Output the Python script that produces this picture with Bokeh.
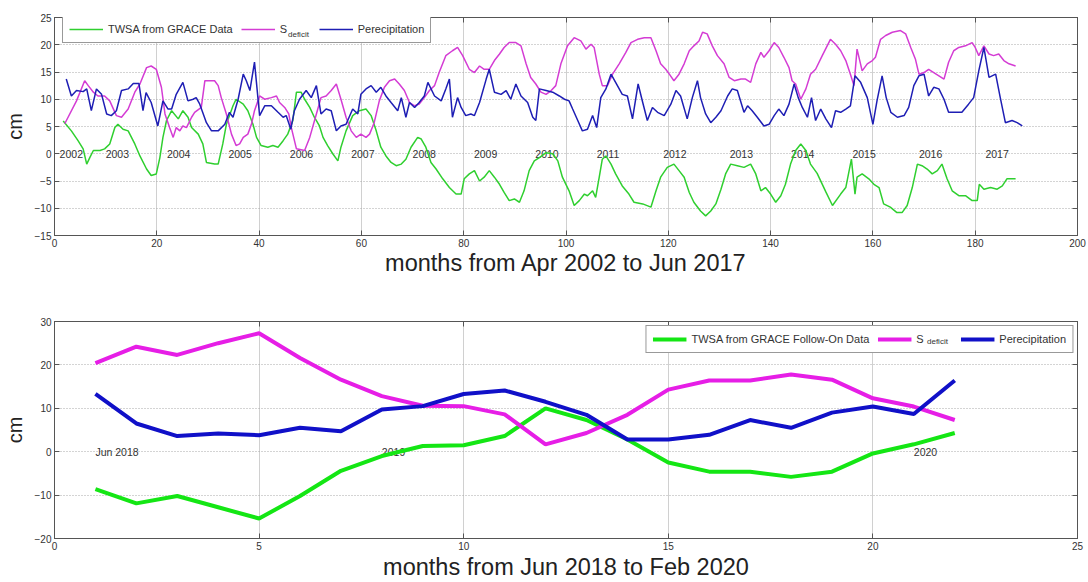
from bokeh.plotting import figure
from bokeh.layouts import column
from bokeh.models import Legend, LegendItem, Range1d, FixedTicker, ColumnDataSource, LinearAxis
from bokeh.core.properties import value
from bokeh.embed import file_html
from bokeh.resources import INLINE

FONT = "Liberation Sans"

# ---------------- top panel data (month index, cm) ----------------
twsa_top = [(1.7, 6.0), (3.3, 4.2), (4.6, 2.4), (5.6, 0.9), (6.3, -1.9), (6.9, -0.7), (7.6, 0.6), (8.9, 0.6),
            (9.8, 0.9), (10.8, 1.8), (11.8, 4.8), (12.4, 5.4), (13.4, 4.5), (14.4, 4.2), (15.7, 1.8), (16.7, -0.4),
            (18.0, -2.8), (18.9, -4.0), (19.9, -3.7), (20.6, -0.7), (21.2, 3.0), (21.9, 6.1), (22.9, 7.9), (24.2, 6.4),
            (25.1, 7.9), (26.1, 6.7), (26.8, 4.8), (28.1, 3.6), (29.0, 1.8), (29.7, -1.6), (31.3, -1.9), (32.0, -1.9),
            (32.9, 1.8), (33.6, 5.4), (34.9, 8.8), (35.5, 10.0), (36.9, 9.1), (37.8, 7.9), (38.8, 5.4), (39.5, 3.0),
            (40.4, 1.5), (41.7, 1.2), (42.7, 1.5), (43.7, 1.2), (44.7, 2.4), (45.6, 3.6), (46.6, 6.1), (47.3, 11.3),
            (48.2, 11.3), (48.9, 10.0), (49.9, 8.5), (50.8, 6.7), (51.8, 5.1), (52.5, 3.0), (53.4, 1.5), (54.4, 0.0),
            (55.4, -1.3), (56.0, 1.2), (57.0, 4.2), (58.3, 7.0), (59.6, 7.9), (60.9, 8.2), (61.9, 7.0), (62.9, 4.2),
            (63.8, 1.2), (64.8, -0.4), (65.8, -1.6), (66.8, -2.2), (67.8, -1.9), (68.7, -1.0), (69.7, 1.2), (71.0, 3.0),
            (71.7, 2.7), (72.6, 1.2), (73.6, -1.6), (74.6, -2.8), (75.9, -4.6), (77.2, -6.2), (78.5, -7.4), (79.5, -7.4),
            (80.1, -4.6), (81.1, -3.7), (82.1, -3.1), (83.1, -5.0), (84.0, -4.3), (85.0, -3.1), (86.0, -4.3), (87.0, -5.6),
            (87.9, -7.1), (88.9, -8.6), (89.9, -8.3), (90.9, -8.9), (91.8, -6.8), (92.8, -3.1), (93.8, -1.3), (94.8, -0.7),
            (96.1, 0.2), (97.4, 0.0), (98.4, -1.3), (99.3, -4.3), (100.6, -6.8), (101.6, -9.5), (102.6, -8.6), (103.6, -7.4),
            (104.2, -7.7), (105.2, -6.8), (105.8, -8.0), (106.5, -4.3), (107.1, -1.0), (107.8, -0.4), (108.8, -1.9),
            (109.7, -3.7), (111.0, -5.9), (112.3, -7.4), (113.3, -8.9), (115.0, -9.2), (116.6, -9.8), (117.6, -6.8),
            (118.5, -4.3), (119.8, -2.5), (121.1, -1.9), (122.1, -3.1), (123.1, -4.3), (124.1, -7.1), (125.0, -8.9),
            (126.3, -10.5), (127.3, -11.4), (128.3, -10.5), (129.3, -9.2), (130.3, -6.5), (131.2, -3.7), (132.2, -1.9),
            (133.5, -2.2), (134.8, -2.5), (136.1, -1.9), (137.1, -3.7), (138.1, -6.8), (139.0, -6.2), (140.0, -7.4),
            (141.0, -8.9), (142.0, -7.7), (142.9, -5.6), (143.9, -1.9), (144.9, 0.6), (145.9, 1.8), (146.9, 0.6),
            (147.8, -1.9), (149.1, -3.6), (150.8, -7.0), (152.1, -9.5), (153.7, -7.4), (154.7, -6.2), (155.8, -1.0),
            (156.5, -7.4), (156.9, -4.3), (157.9, -3.7), (159.2, -4.6), (160.2, -5.6), (161.2, -6.2), (162.1, -9.2),
            (163.4, -9.8), (164.7, -10.8), (165.7, -10.8), (166.7, -9.5), (167.7, -6.2), (168.7, -1.9), (169.6, -2.2),
            (170.6, -2.8), (171.6, -3.7), (172.6, -3.1), (173.5, -1.9), (174.5, -4.6), (175.5, -6.8), (176.8, -7.7),
            (178.1, -7.7), (179.4, -8.6), (180.4, -8.6), (180.8, -5.6), (181.7, -6.5), (183.0, -6.2), (184.3, -6.5),
            (185.3, -5.9), (186.2, -4.6), (187.9, -4.6)]

sdef_top = [(2.0, 5.5), (4.3, 9.7), (5.9, 13.4), (6.6, 12.5), (7.6, 11.3), (8.5, 10.6), (9.8, 10.6), (10.8, 9.7),
            (12.1, 7.0), (13.1, 6.7), (14.4, 8.2), (15.7, 11.3), (16.7, 12.8), (18.0, 15.8), (18.9, 16.1), (19.9, 15.5),
            (20.9, 12.2), (21.6, 7.3), (22.5, 4.8), (23.2, 3.0), (23.8, 4.8), (24.5, 4.2), (25.1, 5.1), (25.8, 4.8),
            (26.8, 6.7), (27.4, 7.6), (28.7, 8.5), (29.4, 13.4), (31.3, 13.4), (32.0, 12.5), (32.6, 10.3), (33.6, 7.3),
            (34.6, 3.6), (35.5, 1.5), (36.2, 1.8), (36.9, 3.0), (37.8, 3.6), (38.5, 5.4), (39.1, 7.9), (40.1, 10.6),
            (41.1, 10.0), (42.4, 10.3), (43.4, 10.6), (44.0, 9.4), (45.0, 8.5), (45.8, 7.3), (46.3, 4.8), (47.3, 0.9),
            (48.9, 0.6), (49.9, 3.0), (51.2, 7.3), (52.1, 10.3), (53.1, 10.6), (54.1, 11.6), (55.1, 12.8), (56.0, 10.0),
            (57.0, 6.7), (58.0, 4.2), (59.0, 3.0), (59.9, 3.6), (60.9, 3.0), (61.6, 3.6), (62.5, 5.7), (63.5, 9.7),
            (64.5, 12.2), (65.5, 13.4), (66.5, 13.7), (67.4, 12.8), (68.4, 11.6), (69.4, 9.4), (70.4, 8.8), (71.3, 9.1),
            (72.3, 10.3), (73.3, 11.6), (74.3, 12.5), (75.2, 14.9), (76.5, 18.0), (77.8, 18.9), (78.8, 19.5), (79.8, 18.0),
            (81.1, 15.5), (82.1, 14.9), (83.1, 16.1), (84.0, 15.5), (85.0, 15.5), (86.0, 17.1), (87.0, 18.3), (87.9, 19.5),
            (88.9, 20.4), (90.2, 20.4), (91.2, 19.8), (92.2, 16.5), (93.1, 14.0), (94.1, 12.8), (95.1, 11.3), (96.1, 10.9),
            (97.1, 11.6), (98.0, 12.5), (99.0, 16.5), (100.3, 19.8), (101.6, 21.3), (102.9, 20.7), (103.9, 19.2),
            (104.9, 20.1), (105.5, 19.5), (106.5, 14.6), (107.1, 12.5), (108.1, 12.5), (109.1, 14.6), (110.4, 16.5),
            (111.7, 18.6), (112.7, 20.4), (114.0, 21.0), (115.3, 21.3), (116.6, 21.3), (117.6, 18.9), (118.5, 16.5),
            (119.5, 15.5), (120.2, 14.6), (121.1, 13.4), (122.1, 14.6), (123.1, 16.5), (124.1, 18.9), (125.0, 19.8),
            (126.0, 20.7), (126.7, 22.3), (127.6, 22.0), (128.6, 19.8), (129.6, 18.0), (130.9, 16.5), (131.9, 14.0),
            (132.9, 13.4), (134.2, 13.7), (135.1, 13.7), (136.1, 13.1), (137.1, 16.5), (138.1, 18.6), (138.7, 17.7),
            (139.7, 18.9), (140.7, 20.4), (141.6, 19.5), (142.6, 17.7), (143.6, 15.8), (144.2, 13.4), (144.9, 12.8),
            (145.9, 10.0), (146.9, 11.9), (147.8, 14.6), (148.8, 15.5), (150.1, 18.0), (151.7, 21.0), (152.7, 20.1),
            (153.7, 18.9), (154.7, 17.1), (155.6, 14.6), (156.3, 12.5), (156.9, 19.2), (157.9, 15.2), (158.9, 16.5),
            (159.9, 17.1), (160.5, 17.7), (161.5, 21.0), (162.5, 21.7), (163.8, 22.3), (165.4, 22.6), (166.4, 22.0),
            (167.4, 19.5), (168.3, 17.4), (169.0, 14.6), (170.0, 14.9), (170.9, 15.5), (171.9, 14.9), (172.9, 14.3),
            (173.9, 13.7), (174.8, 16.8), (175.8, 18.9), (176.8, 19.5), (178.1, 19.8), (179.4, 20.4), (180.0, 19.5),
            (180.7, 18.0), (181.7, 19.8), (182.7, 18.3), (183.6, 18.0), (184.6, 18.3), (185.6, 17.1), (186.6, 16.5),
            (187.9, 16.1)]

prec_top = [(2.3, 13.7), (3.3, 10.6), (4.3, 11.6), (5.6, 11.4), (6.3, 11.9), (7.2, 7.9), (8.2, 11.9), (9.2, 10.9),
            (10.2, 7.3), (11.1, 7.0), (12.1, 7.9), (13.1, 11.6), (14.4, 11.9), (15.4, 12.9), (16.5, 12.9), (17.3, 7.9),
            (17.9, 11.2), (18.9, 9.4), (20.2, 5.1), (21.2, 9.7), (22.2, 8.2), (22.9, 8.2), (23.8, 10.9), (25.1, 13.1),
            (26.1, 9.7), (27.1, 10.0), (27.7, 10.3), (28.4, 9.1), (29.7, 5.7), (30.7, 4.2), (32.0, 4.2), (33.3, 5.4),
            (34.2, 7.6), (34.9, 6.7), (35.9, 10.0), (36.9, 14.6), (37.5, 13.4), (38.2, 11.6), (39.1, 16.8), (40.1, 7.0),
            (41.1, 8.8), (42.4, 8.8), (43.7, 7.6), (44.7, 6.7), (45.3, 7.0), (46.2, 4.5), (46.9, 7.9), (47.9, 10.0),
            (49.2, 11.6), (50.2, 10.3), (51.2, 12.5), (52.1, 7.3), (53.1, 8.2), (54.1, 7.9), (55.1, 4.2), (56.0, 5.1),
            (57.0, 5.4), (58.3, 8.2), (59.3, 7.3), (59.9, 10.9), (60.9, 11.9), (61.9, 12.5), (62.9, 11.3), (63.8, 12.2),
            (64.8, 10.6), (65.8, 9.4), (67.1, 7.9), (67.8, 10.3), (68.7, 6.7), (69.4, 9.4), (70.4, 8.5), (71.3, 9.4),
            (72.3, 10.6), (73.0, 13.1), (74.3, 10.6), (75.6, 9.7), (76.5, 11.9), (77.2, 13.7), (77.8, 6.7), (78.8, 10.3),
            (79.5, 8.5), (80.4, 7.0), (81.4, 7.3), (82.1, 7.0), (83.1, 9.4), (84.4, 13.7), (85.0, 15.5), (86.0, 11.3),
            (87.3, 10.9), (88.3, 11.6), (89.2, 10.0), (90.2, 12.8), (91.2, 10.6), (92.5, 9.4), (93.5, 6.7), (94.1, 6.1),
            (94.8, 11.9), (96.1, 11.6), (97.4, 11.3), (98.7, 10.6), (99.7, 10.0), (100.6, 9.7), (101.3, 8.2), (102.3, 6.1),
            (103.2, 4.2), (104.2, 4.5), (105.2, 7.0), (106.0, 4.8), (106.8, 10.3), (107.8, 11.9), (108.8, 14.6),
            (109.7, 13.1), (111.0, 10.9), (112.0, 10.6), (113.0, 6.4), (114.1, 12.8), (115.0, 9.4), (115.9, 6.1),
            (116.9, 8.5), (117.9, 7.6), (119.2, 7.0), (120.5, 9.1), (121.5, 11.6), (122.4, 10.6), (123.7, 6.4),
            (124.7, 10.3), (125.7, 13.4), (126.3, 10.3), (127.3, 7.3), (128.3, 5.7), (129.3, 6.7), (130.3, 7.9),
            (131.6, 10.6), (132.5, 11.9), (133.5, 11.6), (134.8, 7.6), (135.5, 8.8), (136.4, 7.9), (137.4, 6.7),
            (138.7, 5.1), (139.7, 5.4), (140.7, 7.0), (141.6, 8.2), (142.6, 7.0), (143.6, 9.1), (144.6, 12.8),
            (145.4, 10.3), (146.2, 8.5), (147.2, 6.7), (148.0, 10.3), (148.8, 6.1), (149.8, 8.2), (150.8, 6.4),
            (151.9, 4.8), (152.7, 7.9), (153.7, 7.6), (154.7, 8.2), (155.6, 8.8), (156.5, 14.3), (157.6, 13.1),
            (158.9, 10.3), (160.0, 5.4), (160.8, 9.7), (161.8, 14.3), (162.6, 10.3), (163.5, 7.6), (164.8, 6.7),
            (166.1, 7.0), (167.0, 8.5), (168.0, 12.5), (169.0, 14.3), (170.0, 14.6), (170.9, 10.6), (171.9, 12.2),
            (172.9, 11.9), (173.9, 10.0), (174.8, 7.6), (176.1, 7.6), (177.4, 7.6), (178.7, 9.1), (179.7, 10.3),
            (180.7, 15.2), (181.7, 19.5), (182.7, 14.0), (184.0, 14.6), (184.9, 10.3), (185.9, 5.7), (187.2, 6.1),
            (188.2, 5.7), (189.2, 5.1)]

year_labels = ["2002", "2003", "2004", "2005", "2006", "2007", "2008", "2009", "2010",
               "2011", "2012", "2013", "2014", "2015", "2016", "2017"]
year_x = [1, 10, 22, 34, 46, 58, 70, 82, 94, 106, 119, 132, 144, 156, 169, 182]
year_y = [0] * len(year_labels)

top_xticks = list(range(0, 201, 20))
top_yticks = list(range(-15, 26, 5))

# ---------------- bottom panel data ----------------
months_bot = list(range(1, 23))
twsa_bot = [-8.6, -11.9, -10.2, -12.8, -15.4, -10.2, -4.4, -1.0, 1.3, 1.5, 3.6, 10.0,
            7.3, 2.8, -2.5, -4.6, -4.6, -5.8, -4.6, -0.4, 1.7, 4.3]
sdef_bot = [20.4, 24.2, 22.3, 25.0, 27.3, 21.6, 16.6, 12.8, 10.6, 10.5, 8.6, 1.7,
            4.3, 8.5, 14.3, 16.4, 16.4, 17.8, 16.6, 12.3, 10.4, 7.3]
prec_bot = [13.3, 6.5, 3.6, 4.2, 3.8, 5.5, 4.7, 9.7, 10.5, 13.3, 14.1, 11.5,
            8.5, 2.8, 2.8, 3.9, 7.3, 5.5, 9.0, 10.4, 8.7, 16.4]

bot_labels = ["Jun 2018", "2019", "2020"]
bot_label_x = [1, 8, 21]
bot_label_y = [0, 0, 0]

bot_xticks = list(range(0, 26, 5))
bot_yticks = list(range(-20, 31, 10))

C_GREEN_T, C_MAG_T, C_BLUE_T = "#2fcf2f", "#d43cd4", "#1e1eb4"
C_GREEN_B, C_MAG_B, C_BLUE_B = "#14e614", "#e61ee6", "#1010c8"


def mirror_axis(p, ticks, side):
    ax = LinearAxis(ticker=FixedTicker(ticks=ticks),
                    major_label_overrides={t: "" for t in ticks},
                    major_label_text_font_size="1px", major_label_standoff=0,
                    axis_line_color="#555555", major_tick_line_color="#555555",
                    major_tick_in=5, major_tick_out=0, minor_tick_line_color=None)
    p.add_layout(ax, side)


def style(p, xticks, yticks, xlabel, xlabel_standoff):
    p.outline_line_color = "#555555"
    p.outline_line_width = 1
    p.xaxis.ticker = FixedTicker(ticks=xticks)
    p.yaxis.ticker = FixedTicker(ticks=yticks)
    for ax in (p.xaxis[0], p.yaxis[0]):
        ax.axis_line_color = "#555555"
        ax.major_tick_line_color = "#555555"
        ax.major_tick_in = 5
        ax.major_tick_out = 0
        ax.minor_tick_line_color = None
        ax.major_label_text_font = FONT
        ax.major_label_text_font_size = "10px"
        ax.major_label_text_color = "#333333"
        ax.axis_label_text_font = FONT
        ax.axis_label_text_font_style = "normal"
        ax.axis_label_text_color = "#222222"
    p.xaxis.axis_label = xlabel
    p.xaxis.axis_label_text_font_size = "23.5px"
    p.xaxis.major_label_standoff = 3
    p.xaxis.axis_label_standoff = xlabel_standoff
    p.yaxis.axis_label = "cm"
    p.yaxis.axis_label_text_font_size = "20px"
    p.yaxis.major_label_standoff = 3
    p.yaxis.axis_label_standoff = 6
    p.xgrid.grid_line_color = "#d0d0d0"
    p.xgrid.grid_line_width = 1
    p.ygrid.grid_line_color = "#a8a8a8"
    p.ygrid.grid_line_dash = "1 2"
    p.ygrid.grid_line_width = 1
    mirror_axis(p, xticks, "above")
    mirror_axis(p, yticks, "right")


def legend_style(lg, label_width):
    lg.orientation = "horizontal"
    lg.label_text_font = FONT
    lg.label_text_font_size = "11px"
    lg.label_text_color = "#333333"
    lg.glyph_width = 34
    lg.glyph_height = 14
    lg.label_height = 14
    lg.label_width = label_width
    lg.label_standoff = 5
    lg.spacing = 8
    lg.padding = 6
    lg.border_line_color = "#333333"
    lg.border_line_width = 1
    lg.background_fill_color = "white"
    lg.background_fill_alpha = 1.0


def subscript(p, renderer, loc):
    # the subscript "deficit" of S, drawn as a tiny, frameless legend over the main one
    lg = Legend(items=[LegendItem(label="deficit", renderers=[renderer])], location=loc, margin=0,
                orientation="horizontal", glyph_width=0, glyph_height=10, label_height=10, label_width=10,
                label_standoff=0, padding=0, spacing=0, border_line_color=None, background_fill_alpha=0.0,
                label_text_font=FONT, label_text_font_size="8px", label_text_color="#333333")
    p.add_layout(lg)


# ---------------- top figure ----------------
p1 = figure(width=1088, height=303, output_backend="svg", toolbar_location=None,
            x_range=Range1d(0, 200), y_range=Range1d(-15, 25),
            min_border_left=54, min_border_right=11, min_border_top=17, min_border_bottom=68)
style(p1, top_xticks, top_yticks, "months from Apr 2002 to Jun 2017", 0)

src_year = ColumnDataSource(dict(x=year_x, y=year_y, t=year_labels))
p1.text(x="x", y="y", text="t", source=src_year, text_font=value(FONT), text_font_size="10.5px",
        text_align="left", text_baseline="middle", text_color="#333333")

g1 = p1.line([a for a, b in twsa_top], [b for a, b in twsa_top], line_color=C_GREEN_T, line_width=1.5)
m1 = p1.line([a for a, b in sdef_top], [b for a, b in sdef_top], line_color=C_MAG_T, line_width=1.5)
b1 = p1.line([a for a, b in prec_top], [b for a, b in prec_top], line_color=C_BLUE_T, line_width=1.5)

lg1 = Legend(items=[LegendItem(label="TWSA from GRACE Data", renderers=[g1]),
                    LegendItem(label="S", renderers=[m1]),
                    LegendItem(label="Perecipitation", renderers=[b1])],
             location=(8, 192), margin=0)
legend_style(lg1, 31)
p1.add_layout(lg1)
subscript(p1, m1, (234, 196))

# ---------------- bottom figure ----------------
p2 = figure(width=1088, height=279, output_backend="svg", toolbar_location=None,
            x_range=Range1d(0, 25), y_range=Range1d(-20, 30),
            min_border_left=54, min_border_right=11, min_border_top=18, min_border_bottom=43)
style(p2, bot_xticks, bot_yticks, "months from Jun 2018 to Feb 2020", 1)

src_bl = ColumnDataSource(dict(x=bot_label_x, y=bot_label_y, t=bot_labels))
p2.text(x="x", y="y", text="t", source=src_bl, text_font=value(FONT), text_font_size="10.5px",
        text_align="left", text_baseline="middle", text_color="#333333")

g2 = p2.line(months_bot, twsa_bot, line_color=C_GREEN_B, line_width=4)
m2 = p2.line(months_bot, sdef_bot, line_color=C_MAG_B, line_width=4)
b2 = p2.line(months_bot, prec_bot, line_color=C_BLUE_B, line_width=4)

lg2 = Legend(items=[LegendItem(label="TWSA from GRACE Follow-On Data", renderers=[g2]),
                    LegendItem(label="S", renderers=[m2]),
                    LegendItem(label="Perecipitation", renderers=[b2])],
             location="top_right", margin=4)
legend_style(lg2, 36)
p2.add_layout(lg2)
subscript(p2, m2, (873, 192))

layout = column(p1, p2, spacing=0)
open("out.html", "w").write(file_html(layout, INLINE))
